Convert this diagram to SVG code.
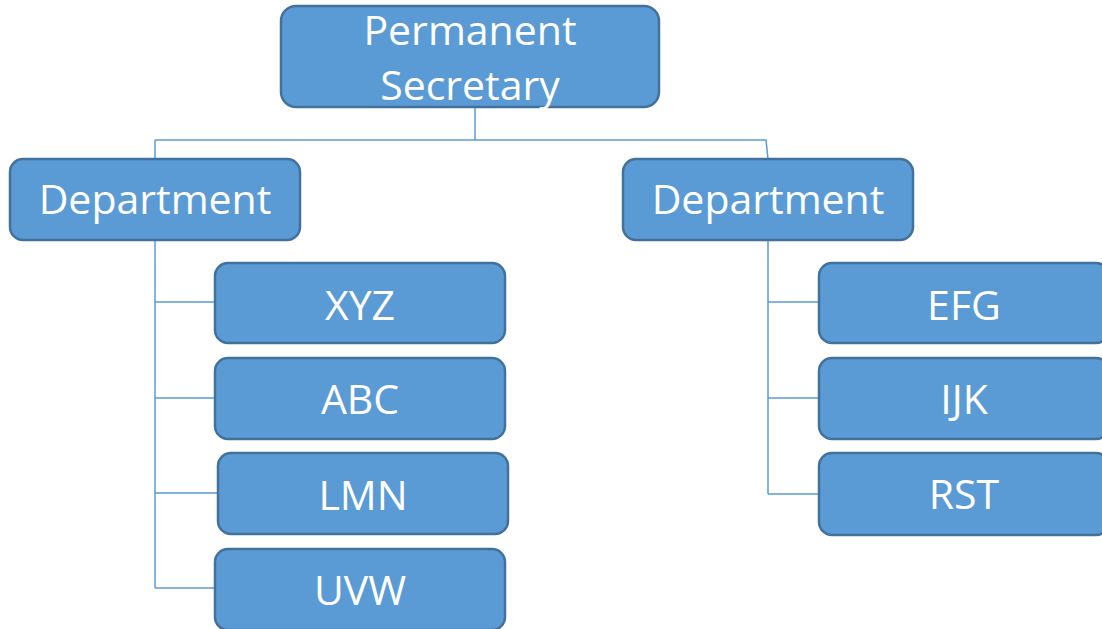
<svg xmlns="http://www.w3.org/2000/svg" width="1102" height="629" viewBox="0 0 1102 629">
  <style>
    .box { fill: #5B9BD5; stroke: #41719C; stroke-width: 2.5; }
    .lbl { fill: #FFFFFF; font-family: "Open Sans", "Noto Sans", sans-serif; font-size: 41px; text-anchor: middle; }
    .link { fill: none; stroke: #5B9BD5; stroke-width: 1.5; }
  </style>
  <rect width="1102" height="629" fill="#FFFFFF"/>

  <!-- connectors -->
  <g id="connectors">
    <path class="link" d="M475 108 V140 M155 140 H766 L768 159 M155 140 V159"/>
    <path class="link" d="M155 240 V588 M155 302 H215 M155 398 H215 M155 493 H218 M155 588 H215"/>
    <path class="link" d="M768 240 V494 M768 302 H819 M768 398 H819 M768 494 H819"/>
  </g>

  <g id="permanent-secretary">
    <rect class="box" x="281" y="6" width="378" height="101" rx="15"/>
    <text class="lbl" x="470" y="45">Permanent</text>
    <text class="lbl" x="470" y="100">Secretary</text>
  </g>

  <g id="department-left">
    <rect class="box" x="10" y="159" width="290" height="81" rx="13"/>
    <text class="lbl" x="155" y="214">Department</text>
  </g>
  <g id="department-right">
    <rect class="box" x="623" y="159" width="290" height="81" rx="13"/>
    <text class="lbl" x="768" y="214">Department</text>
  </g>

  <g id="xyz">
    <rect class="box" x="215" y="263" width="290" height="80" rx="13"/>
    <text class="lbl" x="360" y="320">XYZ</text>
  </g>
  <g id="abc">
    <rect class="box" x="215" y="358" width="290" height="81" rx="13"/>
    <text class="lbl" x="360" y="414">ABC</text>
  </g>
  <g id="lmn">
    <rect class="box" x="218" y="453" width="290" height="81" rx="13"/>
    <text class="lbl" x="363" y="510">LMN</text>
  </g>
  <g id="uvw">
    <rect class="box" x="215" y="549" width="290" height="81" rx="13"/>
    <text class="lbl" x="360" y="605">UVW</text>
  </g>

  <g id="efg">
    <rect class="box" x="819" y="263" width="290" height="80" rx="13"/>
    <text class="lbl" x="964" y="320">EFG</text>
  </g>
  <g id="ijk">
    <rect class="box" x="819" y="358" width="290" height="81" rx="13"/>
    <text class="lbl" x="964" y="414">IJK</text>
  </g>
  <g id="rst">
    <rect class="box" x="819" y="453" width="290" height="82" rx="13"/>
    <text class="lbl" x="964" y="509">RST</text>
  </g>
</svg>
